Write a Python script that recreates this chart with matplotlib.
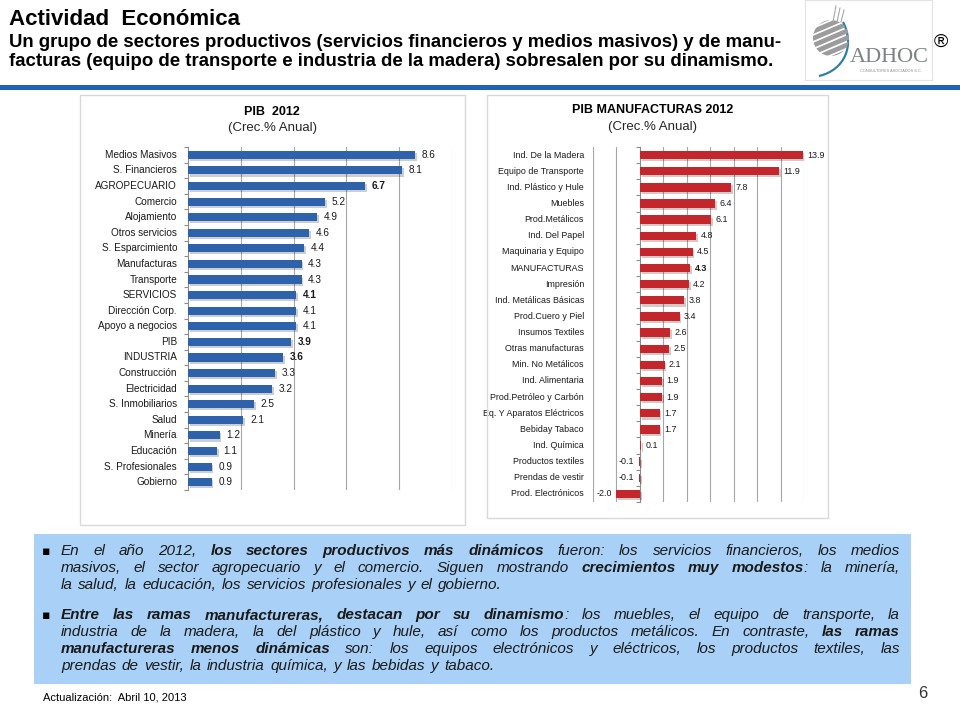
import matplotlib
matplotlib.use("Agg")
import numpy as np
import matplotlib.pyplot as plt
import matplotlib.patheffects as pe
from matplotlib.patches import Rectangle, Circle, PathPatch
from matplotlib.path import Path
from matplotlib.transforms import blended_transform_factory

W, H = 960, 720

# ---------------- datos ----------------
pib_sectores = ["Medios Masivos", "S. Financieros", "AGROPECUARIO", "Comercio", "Alojamiento",
                "Otros servicios", "S. Esparcimiento", "Manufacturas", "Transporte", "SERVICIOS",
                "Dirección Corp.", "Apoyo a negocios", "PIB", "INDUSTRIA", "Construcción",
                "Electricidad", "S. Inmobiliarios", "Salud", "Minería", "Educación",
                "S. Profesionales", "Gobierno"]
pib_valores = [8.6, 8.1, 6.7, 5.2, 4.9, 4.6, 4.4, 4.3, 4.3, 4.1, 4.1, 4.1, 3.9, 3.6, 3.3,
               3.2, 2.5, 2.1, 1.2, 1.1, 0.9, 0.9]
pib_negritas = ["AGROPECUARIO", "SERVICIOS", "PIB", "INDUSTRIA"]

manuf_ramas = ["Ind. De la Madera", "Equipo de Transporte", "Ind. Plástico y Hule", "Muebles",
               "Prod.Metálicos", "Ind. Del Papel", "Maquinaria y Equipo", "MANUFACTURAS",
               "Impresión", "Ind. Metálicas Básicas", "Prod.Cuero y Piel", "Insumos Textiles",
               "Otras manufacturas", "Min. No Metálicos", "Ind. Alimentaria",
               "Prod.Petróleo y Carbón", "Eq. Y Aparatos Eléctricos", "Bebiday Tabaco",
               "Ind. Química", "Productos textiles", "Prendas de vestir", "Prod. Electrónicos"]
manuf_valores = [13.9, 11.9, 7.8, 6.4, 6.1, 4.8, 4.5, 4.3, 4.2, 3.8, 3.4, 2.6, 2.5, 2.1,
                 1.9, 1.9, 1.7, 1.7, 0.1, -0.1, -0.1, -2.0]
manuf_negritas = ["MANUFACTURAS"]

titulo = "Actividad  Económica"
subtitulo = ["Un grupo de sectores productivos (servicios financieros y medios masivos) y de manu-",
             "facturas (equipo de transporte e industria de la madera) sobresalen por su dinamismo."]

# cada renglon: lista de (texto, negrita)
parrafo1 = [
    [("En  el año 2012, ", False), ("los sectores productivos más dinámicos", True),
     (" fueron: los servicios financieros, los medios", False)],
    [("masivos, el sector agropecuario y el comercio. Siguen mostrando ", False),
     ("crecimientos muy modestos", True), (": la minería,", False)],
    [("la salud, la  educación, los servicios profesionales  y el gobierno.", False)],
]
parrafo2 = [
    [("Entre las ramas manufactureras, destacan por su dinamismo", True),
     (": los muebles, el  equipo de transporte,  la", False)],
    [("industria de la madera, la del plástico y hule, así como los productos metálicos. En contraste, ", False),
     ("las ramas", True)],
    [("manufactureras menos dinámicas", True),
     (" son: los equipos electrónicos y eléctricos, los productos textiles, las", False)],
    [("prendas  de vestir, la industria química, y las bebidas  y tabaco.", False)],
]
actualizacion = "Actualización:  Abril 10, 2013"
pagina = "6"

SANS = ["Liberation Sans", "DejaVu Sans"]
NARROW = ["Liberation Sans Narrow", "Liberation Sans", "DejaVu Sans"]

fig = plt.figure(figsize=(9.6, 7.2), dpi=100)
fig.patch.set_facecolor("white")
renderer = fig.canvas.get_renderer()


def caja(x0, y0, x1, y1):
    return [x0 / W, 1 - y1 / H, (x1 - x0) / W, (y1 - y0) / H]


def fx(x):
    return x / W


def fy(y):
    return 1 - y / H


def ancho(txt, **kw):
    t = fig.text(0, 0, txt, **kw)
    w = t.get_window_extent(renderer).width
    t.remove()
    return w


def marco(x0, y0, x1, y1, **kw):
    fig.patches.append(Rectangle((fx(x0), fy(y1)), (x1 - x0) / W, (y1 - y0) / H,
                                 transform=fig.transFigure, figure=fig, **kw))


# ---------------- encabezado ----------------
fig.text(fx(9), fy(25), titulo, fontsize=16, fontweight="bold", family=SANS,
         va="baseline", color="black")
sub_kw = dict(fontweight="bold", family=NARROW)
fs_sub = 13.0 * 773 / ancho(subtitulo[0], fontsize=13.0, **sub_kw)
for txt, yb in zip(subtitulo, [47, 66]):
    fig.text(fx(9), fy(yb), txt, fontsize=fs_sub, va="baseline", color="black", **sub_kw)

marco(0, 85, 960, 90, facecolor="#1f62b8", edgecolor="none")

# logo
axl = fig.add_axes(caja(805, 0, 932, 80), zorder=3)
axl.set_xlim(0, 127)
axl.set_ylim(80, 0)
axl.set_xticks([])
axl.set_yticks([])
for s in axl.spines.values():
    s.set_color("#e3e3e3")
globo = Circle((26, 38), 18, transform=axl.transData)
for k in range(-5, 7):
    ln, = axl.plot([-5, 70], [30 + 7 * k, 30 + 7 * k - 32], color="#9c9c9c", lw=3.4,
                   solid_capstyle="butt")
    ln.set_clip_path(globo)
for k, dx in enumerate([0, 4, 8]):
    axl.plot([28 + dx, 31 + dx], [22, 6 + 2 * k], color="#a8a8a8", lw=0.8)
curva = Path([(38, 22), (50, 45), (40, 70), (14, 76)],
             [Path.MOVETO, Path.CURVE4, Path.CURVE4, Path.CURVE4])
axl.add_patch(PathPatch(curva, facecolor="none", edgecolor="#2f7fa6", lw=1.6))
axl.text(84, 62, "ADHOC", family=["Liberation Serif", "DejaVu Serif"], fontsize=16,
         color="#7d8285", ha="center", va="baseline")
axl.text(86, 71, "CONSULTORES ASOCIADOS S.C.", family=SANS, fontsize=2.8,
         color="#8c8c8c", ha="center", va="center")
fig.text(fx(941), fy(42), "®", fontsize=14, family=SANS, ha="center", va="center",
         color="black")


# ---------------- graficas ----------------
def grafica(rect, cats, vals, negritas, color, xlim, rejilla, fam, fs, sep_lbl, off_pos, off_neg):
    ax = fig.add_axes(caja(*rect))
    pos = np.arange(len(cats))
    ax.barh(pos, vals, height=0.52, color=color, zorder=3,
            path_effects=[pe.SimplePatchShadow(offset=(1.2, -1.5), alpha=0.22), pe.Normal()])
    ax.set_xlim(*xlim)
    ax.set_ylim(len(cats) - 0.5, -0.5)
    ax.set_xticks(rejilla)
    ax.tick_params(axis="x", length=0, labelbottom=False)
    ax.grid(axis="x", color="#a6a6a6", lw=0.8)
    ax.set_axisbelow(True)
    ax.patch.set_alpha(0)
    for s in ["top", "right", "bottom"]:
        ax.spines[s].set_visible(False)
    ax.spines["left"].set_position(("data", 0))
    ax.spines["left"].set_color("#8c8c8c")
    ax.set_yticks(np.arange(len(cats) + 1) - 0.5)
    ax.tick_params(axis="y", length=3, color="#8c8c8c", labelleft=False)
    tr = blended_transform_factory(ax.transAxes, ax.transData)
    for i, (c, v) in enumerate(zip(cats, vals)):
        ax.text(-sep_lbl, i, c, transform=tr, ha="right", va="center", fontsize=fs,
                family=fam, color="#1a1a1a")
        peso = "bold" if c in negritas else "normal"
        if v >= 0:
            ax.text(v + off_pos, i, f"{v:.1f}", ha="left", va="center", fontsize=fs,
                    family=fam, fontweight=peso, color="#1a1a1a")
        else:
            ax.text(v - off_neg, i, f"{v:.1f}", ha="right", va="center", fontsize=fs,
                    family=fam, fontweight=peso, color="#1a1a1a")
    return ax


# PIB 2012
marco(80, 95, 465, 525, facecolor="none", edgecolor="#d9d9d9", lw=1)
fig.text(fx(272), fy(112), "PIB  2012", fontsize=9, fontweight="bold", family=SANS,
         ha="center", va="center")
fig.text(fx(272), fy(128), "(Crec.% Anual)", fontsize=9.5, family=SANS, ha="center",
         va="center", color="#262626")
grafica((188, 147, 452, 490), pib_sectores, pib_valores, pib_negritas, "#2e62ab",
        (0, 10), [2, 4, 6, 8, 10], SANS, 7.2, 11 / 264, 0.25, 0.3)

# PIB Manufacturas 2012
marco(487, 95, 828, 518, facecolor="none", edgecolor="#d9d9d9", lw=1)
fig.text(fx(653), fy(110), "PIB MANUFACTURAS 2012", fontsize=9, fontweight="bold",
         family=NARROW, ha="center", va="center")
fig.text(fx(653), fy(127), "(Crec.% Anual)", fontsize=9.5, family=NARROW, ha="center",
         va="center", color="#262626")
grafica((593, 147, 804, 502), manuf_ramas, manuf_valores, manuf_negritas, "#c3262b",
        (-4, 14), [-4, -2, 2, 4, 6, 8, 10, 12, 14], NARROW, 6.4, 9 / 211, 0.35, 0.4)

# ---------------- texto inferior ----------------
marco(34, 534, 911, 684, facecolor="#a9d1f7", edgecolor="none")

txt_kw = dict(fontsize=11, family=SANS, style="italic", color="#1a1a1a")
X0, X1 = 61, 900


def palabras(renglon):
    out = []
    fin_espacio = True
    for texto, neg in renglon:
        piezas = texto.split(" ")
        for j, p in enumerate(piezas):
            if p == "":
                continue
            pegada = (j == 0 and not fin_espacio and len(out) > 0)
            if pegada:
                out[-1].append((p, neg))
            else:
                out.append([(p, neg)])
        fin_espacio = texto.endswith(" ")
    return out


def ancho_palabra(pal):
    return sum(ancho(p, fontweight="bold" if n else "normal", **txt_kw) for p, n in pal)


esp = ancho("a a", **txt_kw) - ancho("aa", **txt_kw)


def escribir(parrafo, bases):
    fig.text(fx(46), fy(bases[0]), "▪", fontsize=9, family=["DejaVu Sans"], ha="center",
             va="baseline", color="black")
    for k, (renglon, yb) in enumerate(zip(parrafo, bases)):
        pals = palabras(renglon)
        anchos = [ancho_palabra(p) for p in pals]
        if k < len(parrafo) - 1 and len(pals) > 1:
            hueco = (X1 - X0 - sum(anchos)) / (len(pals) - 1)
        else:
            hueco = esp * 1.3
        x = X0
        for pal, w in zip(pals, anchos):
            xp = x
            for p, n in pal:
                peso = "bold" if n else "normal"
                fig.text(fx(xp), fy(yb), p, va="baseline", fontweight=peso, **txt_kw)
                xp += ancho(p, fontweight=peso, **txt_kw)
            x += w + hueco


escribir(parrafo1, [555, 572, 589])
escribir(parrafo2, [619, 636, 653, 670])

fig.text(fx(43), fy(701), actualizacion, fontsize=8, family=NARROW, va="baseline",
         color="black")
fig.text(fx(923), fy(698), pagina, fontsize=12, family=NARROW, ha="center", va="baseline",
         color="#333333")

fig.savefig("out.png", dpi=100)
